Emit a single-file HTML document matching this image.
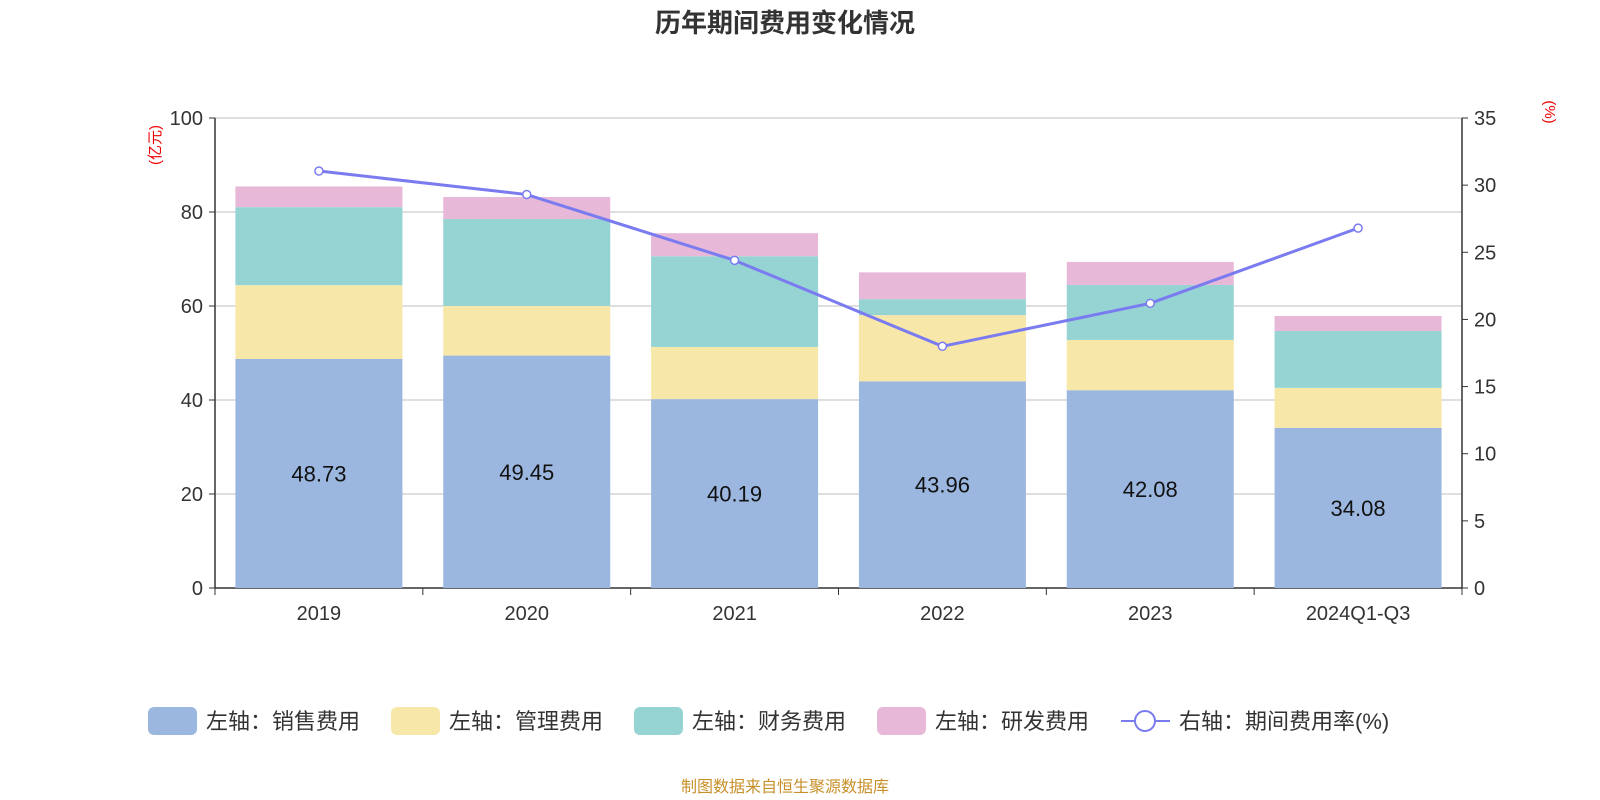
<!DOCTYPE html>
<html><head><meta charset="utf-8"><style>
body{margin:0;background:#fff;}
svg{display:block;font-family:"Liberation Sans","Noto Sans CJK SC",sans-serif;}
</style></head><body>
<svg id="c" width="1600" height="800">
<text x="785" y="32" text-anchor="middle" font-size="26" font-weight="bold" fill="#333">历年期间费用变化情况</text>
<text transform="translate(160,145) rotate(-90)" text-anchor="middle" font-size="15" fill="#e00">(亿元)</text>
<text transform="translate(1545,112) rotate(90)" text-anchor="middle" font-size="15" fill="#e00">(%)</text>
<g id="grid"></g><g id="bars"></g><g id="axes"></g><g id="line"></g>
<g id="legend"></g>
<text x="785" y="792" text-anchor="middle" font-size="16" fill="#c8902a">制图数据来自恒生聚源数据库</text>
</svg>
<script>
const categories=["2019","2020","2021","2022","2023","2024Q1-Q3"];
const sales=[48.73,49.45,40.19,43.96,42.08,34.08];
const mgmt=[15.7,10.55,11.1,14.1,10.7,8.5];
const fin=[16.6,18.5,19.3,3.4,11.7,12.1];
const rnd=[4.4,4.7,4.9,5.7,4.9,3.2];
const rate=[31.05,29.3,24.4,18.0,21.2,26.8];
const leftTicks=[0,20,40,60,80,100];
const rightTicks=[0,5,10,15,20,25,30,35];
const NS="http://www.w3.org/2000/svg";
const X0=215,X1=1462,Y0=588,Y1=118;
const bw=(X1-X0)/categories.length;
const yL=v=>Y0-(v/100)*(Y0-Y1);
const yR=v=>Y0-(v/35)*(Y0-Y1);
const xC=i=>X0+bw*(i+0.5);
function mk(p,t,a){const e=document.createElementNS(NS,t);for(const k in a)e.setAttribute(k,a[k]);document.getElementById(p).appendChild(e);return e;}
leftTicks.forEach(v=>{
 const g=mk("grid","line",{x1:X0,x2:X1,y1:yL(v),y2:yL(v),stroke:v?"#ccc":"#333","stroke-width":v?1.2:1.5});
 
 
 const t=mk("axes","text",{x:X0-12,y:yL(v)+7,"text-anchor":"end","font-size":20,fill:"#333"});t.textContent=v;
 
 
 mk("axes","line",{x1:X0-6,x2:X0,y1:yL(v),y2:yL(v),stroke:"#333"});
});
rightTicks.forEach(v=>{
 const t=mk("axes","text",{x:X1+12,y:yR(v)+7,"font-size":20,fill:"#333"});t.textContent=v;
 
 
 mk("axes","line",{x1:X1,x2:X1+6,y1:yR(v),y2:yR(v),stroke:"#333"});
});
mk("axes","line",{x1:X0,x2:X0,y1:Y1,y2:Y0,stroke:"#333","stroke-width":1.5});
mk("axes","line",{x1:X1,x2:X1,y1:Y1,y2:Y0,stroke:"#333","stroke-width":1.5});
for(let i=0;i<=categories.length;i++)mk("axes","line",{x1:X0+bw*i,x2:X0+bw*i,y1:Y0,y2:Y0+7,stroke:"#333"});
const series=[[sales,"#9bb7e0","sales"],[mgmt,"#f7e7a8","mgmt"],[fin,"#96d4d4","finance"],[rnd,"#e8b8d8","rnd"]];
categories.forEach((c,i)=>{
 let base=0;
 series.forEach(([arr,col,n])=>{
  const r=mk("bars","rect",{x:xC(i)-83.5,width:167,y:yL(base+arr[i]),height:yL(base)-yL(base+arr[i]),fill:col});
  
  
  base+=arr[i];
 });
 const l=mk("bars","text",{x:xC(i),y:(yL(0)+yL(sales[i]))/2+8,"text-anchor":"middle","font-size":22,fill:"#111"});l.textContent=sales[i].toFixed(2);
 
 
 const t=mk("axes","text",{x:xC(i),y:Y0+32,"text-anchor":"middle","font-size":20,fill:"#333"});t.textContent=c;
 
 
});
const pl=mk("line","polyline",{points:rate.map((v,i)=>xC(i)+","+yR(v)).join(" "),fill:"none",stroke:"#7b7bf0","stroke-width":3});


rate.forEach((v,i)=>{const p=mk("line","circle",{cx:xC(i),cy:yR(v),r:4,fill:"#fff",stroke:"#7b7bf0","stroke-width":1.5});
 
 });
const leg=[["左轴：销售费用","#9bb7e0",148],["左轴：管理费用","#f7e7a8",391],["左轴：财务费用","#96d4d4",634],["左轴：研发费用","#e8b8d8",877]];
leg.forEach(([t,c,x])=>{
 const r=mk("legend","rect",{x:x,y:707,width:49,height:28,rx:6,fill:c});
 
 
 const tx=mk("legend","text",{x:x+58,y:729,"font-size":22,fill:"#333"});tx.textContent=t;
 
 
});
mk("legend","line",{x1:1121,x2:1170,y1:721,y2:721,stroke:"#7b7bf0","stroke-width":2});
mk("legend","circle",{cx:1145,cy:721,r:10,fill:"#fff",stroke:"#7b7bf0","stroke-width":2});
const lt=mk("legend","text",{x:1179,y:729,"font-size":22,fill:"#333"});lt.textContent="右轴：期间费用率(%)";


</script>
</body></html>
